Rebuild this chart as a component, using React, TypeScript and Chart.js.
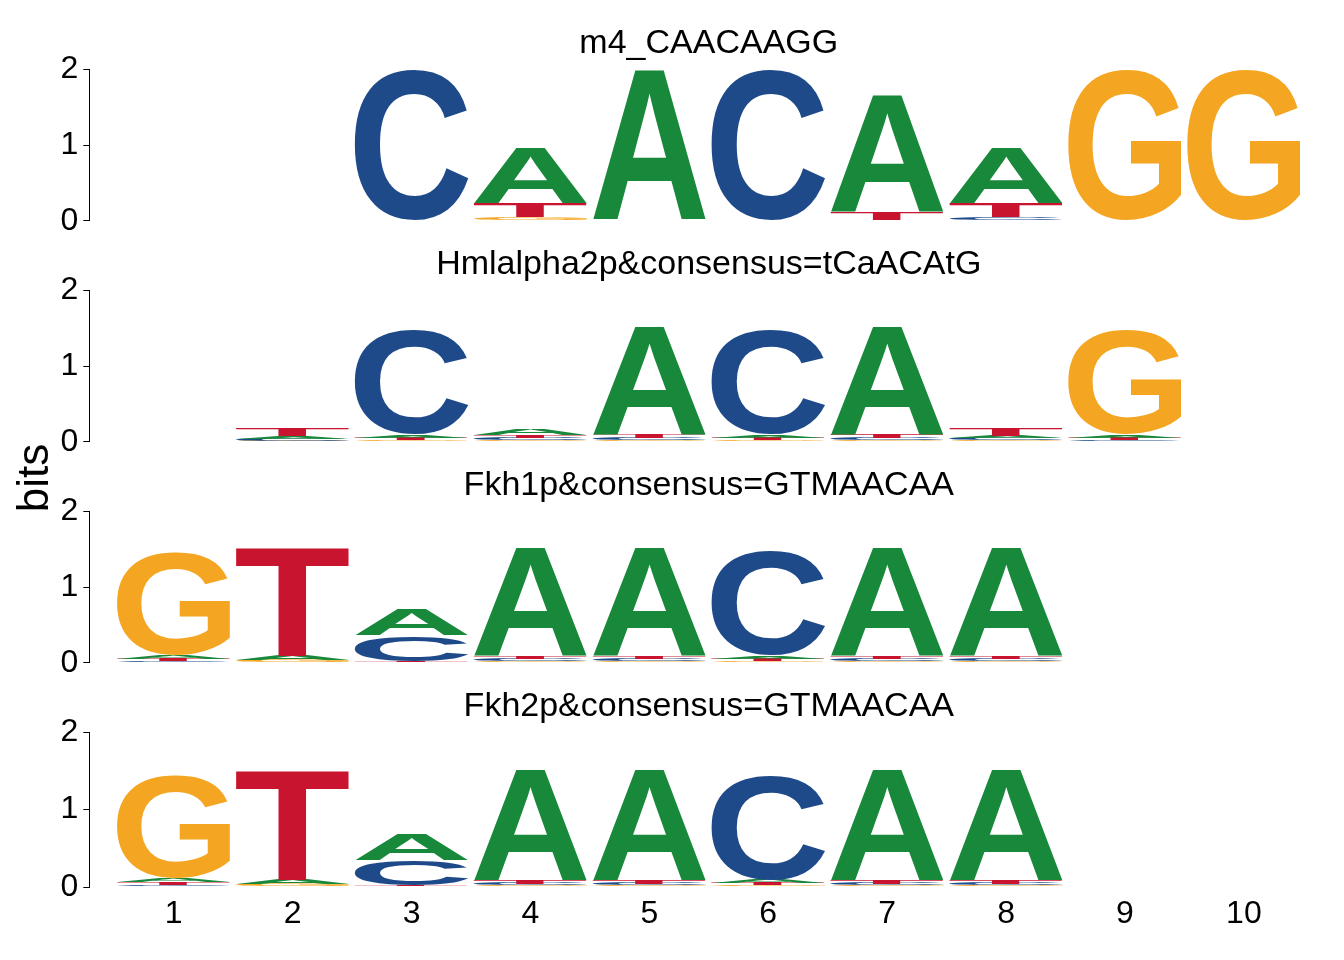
import React, { useEffect, useRef } from "react";
import { Chart, registerables } from "chart.js";

Chart.register(...registerables);

// ---------- data ----------
const positions = [1, 2, 3, 4, 5, 6, 7, 8, 9, 10];
const xTickLabels = ["1", "2", "3", "4", "5", "6", "7", "8", "9", "10"];
const yTicks = [0, 1, 2];
const motifTitles = [
  "m4_CAACAAGG",
  "Hmlalpha2p&consensus=tCaACAtG",
  "Fkh1p&consensus=GTMAACAA",
  "Fkh2p&consensus=GTMAACAA",
];

// heights in bits per position (1..10)
const m4_A = [0, 0, 0, 0.735, 1.99, 0, 1.555, 0.735, 0, 0];
const m4_C = [0, 0, 1.99, 0, 0, 1.99, 0, 0.045, 0, 0];
const m4_G = [0, 0, 0, 0.045, 0, 0, 0, 0, 1.99, 1.99];
const m4_T = [0, 0, 0, 0.19, 0, 0, 0.106, 0.19, 0, 0];

const hml_A = [0, 0.03, 0.04, 0.085, 1.43, 0.04, 1.425, 0.03, 0.04, 0];
const hml_C = [0, 0.025, 1.375, 0.03, 0.025, 1.37, 0.025, 0.025, 0.02, 0];
const hml_G = [0, 0.015, 0.02, 0.02, 0.02, 0.02, 0.02, 0.02, 1.37, 0];
const hml_T = [0, 0.1, 0.03, 0.04, 0.045, 0.035, 0.05, 0.1, 0.035, 0];

const fkh1_A = [0.045, 0.06, 0.345, 1.435, 1.435, 0.04, 1.435, 1.435, 0, 0];
const fkh1_C = [0.02, 0.01, 0.335, 0.025, 0.025, 1.37, 0.025, 0.025, 0, 0];
const fkh1_G = [1.36, 0.025, 0.008, 0.02, 0.02, 0.02, 0.02, 0.02, 0, 0];
const fkh1_T = [0.035, 1.425, 0.015, 0.04, 0.04, 0.03, 0.04, 0.04, 0, 0];

const fkh2_A = [0.045, 0.06, 0.33, 1.435, 1.435, 0.04, 1.435, 1.435, 0, 0];
const fkh2_C = [0.025, 0.01, 0.325, 0.025, 0.025, 1.34, 0.025, 0.025, 0, 0];
const fkh2_G = [1.33, 0.025, 0.008, 0.02, 0.02, 0.02, 0.02, 0.02, 0, 0];
const fkh2_T = [0.035, 1.425, 0.015, 0.04, 0.04, 0.03, 0.04, 0.04, 0, 0];

const motifColumns = [
  { A: m4_A, C: m4_C, G: m4_G, T: m4_T },
  { A: hml_A, C: hml_C, G: hml_G, T: hml_T },
  { A: fkh1_A, C: fkh1_C, G: fkh1_G, T: fkh1_T },
  { A: fkh2_A, C: fkh2_C, G: fkh2_G, T: fkh2_T },
];

const letterColors: Record<string, string> = {
  A: "#18893B",
  C: "#1E4A8A",
  G: "#F4A623",
  T: "#C8142E",
};

// ---------- styling / layout ----------
const FONT = "'Liberation Sans', Arial, Helvetica, sans-serif";
const GLYPH_FONT = "bold 200px 'Liberation Sans', Arial, Helvetica, sans-serif";
const PANEL_STEP = 221;
const PANEL_H = 251;
const LAST_H = 297;
const TICK_SIZE = 32;
const TITLE_SIZE = 34;

function buildDatasets(cols: Record<string, number[]>) {
  const letters = ["A", "C", "G", "T"];
  const sorted = positions.map((_, j) =>
    letters
      .map((l) => ({ l, v: cols[l][j] }))
      .sort((a, b) => a.v - b.v)
  );
  return [0, 1, 2, 3].map((r) => ({
    label: "rank" + r,
    data: positions.map((p, j) => ({ x: p, y: sorted[j][r].v })),
    letters: positions.map((_, j) => sorted[j][r].l),
    backgroundColor: "rgba(0,0,0,0)",
    borderWidth: 0,
    barPercentage: 0.955,
    categoryPercentage: 1,
  }));
}

function drawLetter(ctx: CanvasRenderingContext2D, letter: string, x0: number, y0: number, w: number, h: number) {
  ctx.save();
  ctx.font = GLYPH_FONT;
  ctx.textAlign = "left";
  ctx.textBaseline = "alphabetic";
  const m = ctx.measureText(letter);
  const L = m.actualBoundingBoxLeft;
  const R = m.actualBoundingBoxRight;
  const A = m.actualBoundingBoxAscent;
  const D = m.actualBoundingBoxDescent;
  ctx.translate(x0, y0);
  ctx.scale(w / (L + R), h / (A + D));
  ctx.fillStyle = letterColors[letter];
  ctx.fillText(letter, L, A);
  ctx.restore();
}

const logoPlugin = {
  id: "logoLetters",
  afterDatasetsDraw(chart: any) {
    const ctx = chart.ctx as CanvasRenderingContext2D;
    chart.data.datasets.forEach((ds: any, i: number) => {
      const meta = chart.getDatasetMeta(i);
      meta.data.forEach((el: any, j: number) => {
        const { x, y, base, width } = el.getProps(["x", "y", "base", "width"], true);
        const h = base - y;
        if (!(h > 0.05)) return;
        drawLetter(ctx, ds.letters[j], x - width / 2, y, width, h);
      });
    });
  },
};

const bitsPlugin = {
  id: "bitsLabel",
  afterDraw(chart: any) {
    if (!chart.options.plugins.bitsLabel?.show) return;
    const ctx = chart.ctx as CanvasRenderingContext2D;
    ctx.save();
    ctx.font = `44px ${FONT}`;
    ctx.fillStyle = "#000";
    ctx.textAlign = "center";
    ctx.textBaseline = "alphabetic";
    ctx.translate(48, 478 - 2 * PANEL_STEP);
    ctx.rotate(-Math.PI / 2);
    ctx.fillText("bits", 0, 0);
    ctx.restore();
  },
};

function Panel({ index }: { index: number }) {
  const ref = useRef<HTMLCanvasElement | null>(null);
  const isLast = index === motifTitles.length - 1;
  const H = isLast ? LAST_H : PANEL_H;

  useEffect(() => {
    if (!ref.current) return;
    const chart = new Chart(ref.current, {
      type: "bar",
      data: { datasets: buildDatasets(motifColumns[index]) as any },
      plugins: [logoPlugin, bitsPlugin],
      options: {
        animation: false,
        responsive: false,
        events: [],
        layout: {
          padding: { left: 0, right: 15.7, top: 0, bottom: isLast ? 18.6 : 30.3 },
        },
        plugins: {
          legend: { display: false },
          tooltip: { enabled: false },
          title: {
            display: true,
            text: motifTitles[index],
            fullSize: false,
            color: "#000",
            font: { family: FONT, size: TITLE_SIZE, weight: "normal" as any, lineHeight: 1.2 },
            padding: { top: 23, bottom: 5.5 },
          },
          bitsLabel: { show: index === 2 },
        } as any,
        scales: {
          x: {
            type: "linear",
            min: 0.29,
            max: 10.71,
            offset: false,
            stacked: true,
            display: isLast,
            grid: { display: false, drawTicks: false },
            border: { display: false },
            afterBuildTicks: (scale: any) => {
              scale.ticks = positions.map((v) => ({ value: v }));
            },
            ticks: {
              padding: 8,
              color: "#000",
              font: { family: FONT, size: TICK_SIZE },
              maxRotation: 0,
              autoSkip: false,
              callback: (_v: any, i: number) => xTickLabels[i],
            },
          },
          y: {
            type: "linear",
            min: 0,
            max: 2,
            stacked: true,
            afterFit: (scale: any) => {
              scale.width = 89.3;
            },
            afterBuildTicks: (scale: any) => {
              scale.ticks = yTicks.map((v) => ({ value: v }));
            },
            grid: {
              drawOnChartArea: false,
              drawTicks: true,
              tickLength: 6,
              tickColor: "#000",
              lineWidth: 1,
            },
            border: { display: true, color: "#000", width: 1 },
            ticks: {
              padding: 5,
              color: "#000",
              font: { family: FONT, size: TICK_SIZE },
              callback: (v: any) => String(v),
            },
          },
        } as any,
      },
    });
    return () => chart.destroy();
  }, [index]);

  return (
    <canvas
      ref={ref}
      width={1344}
      height={H}
      style={{
        position: "absolute",
        left: 0,
        top: index * PANEL_STEP,
        width: 1344,
        height: H,
      }}
    />
  );
}

export default function App() {
  return (
    <div
      style={{
        position: "absolute",
        left: 0,
        top: 0,
        width: 1344,
        height: 960,
        background: "#fff",
        overflow: "hidden",
      }}
    >
      {motifTitles.map((_, i) => (
        <Panel key={i} index={i} />
      ))}
    </div>
  );
}
